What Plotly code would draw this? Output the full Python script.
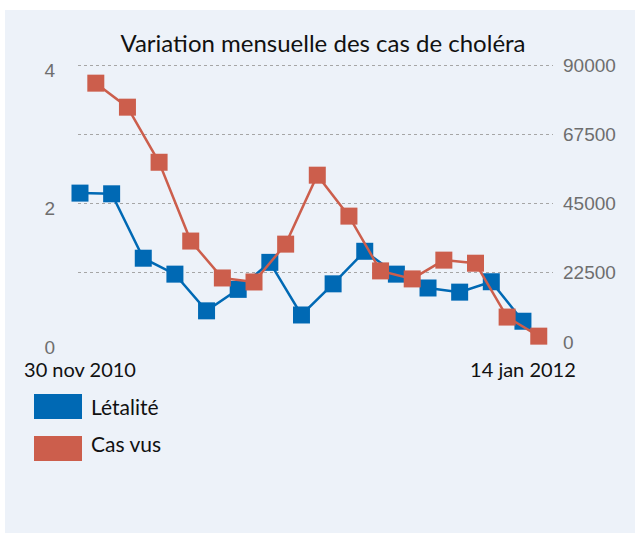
import plotly.graph_objects as go

# ---- data ----
periods = list(range(15))
tick_positions = [0, 14]
tick_labels = ["30 nov 2010", "14 jan 2012"]

letalite = [2.15, 2.14, 1.21, 0.98, 0.45, 0.76, 1.15, 0.39, 0.84, 1.31, 0.98, 0.78, 0.72, 0.87, 0.30]
cas_vus = [84100, 76300, 58400, 32800, 20800, 19500, 31800, 54200, 40900, 23100, 20500, 26600, 25600, 8100, 1900]

series_names = ["Létalité", "Cas vus"]
title_text = "Variation mensuelle des cas de choléra"

BLUE = "#0069B4"
RED = "#CC5E4C"
BG = "#EDF2F9"
TXT_FONT = "Lato"
TICK_FONT = "Liberation Sans"

# plot area geometry (pixels); value-top (4 / 90000) sits at y=65, zero at y=342
W, H = 635, 535
L, R, T, B = 78, 553, 62, 342
VTOP = 65
pw, ph = R - L, B - T
EPS = (B - T) / (B - VTOP)

def px(x):
    return (x - L) / pw

def py(y):
    return (B - y) / ph

red_x = [p + 0.5 for p in periods]

fig = go.Figure()
fig.add_trace(go.Scatter(
    x=periods, y=letalite, name=series_names[0], mode="lines+markers",
    line=dict(color=BLUE, width=2.5),
    marker=dict(symbol="square", size=17, color=BLUE),
    yaxis="y", showlegend=False, cliponaxis=False,
))
fig.add_trace(go.Scatter(
    x=red_x, y=cas_vus, name=series_names[1], mode="lines+markers",
    line=dict(color=RED, width=2.5),
    marker=dict(symbol="square", size=17, color=RED),
    yaxis="y2", showlegend=False, cliponaxis=False,
))

shapes = [
    dict(type="rect", xref="paper", yref="paper", layer="below",
         x0=px(5), x1=px(640), y0=py(533), y1=py(10),
         fillcolor=BG, line=dict(width=0)),
    dict(type="rect", xref="paper", yref="paper",
         x0=px(34), x1=px(82), y0=py(419), y1=py(394),
         fillcolor=BLUE, line=dict(width=0)),
    dict(type="rect", xref="paper", yref="paper",
         x0=px(34), x1=px(82), y0=py(461), y1=py(436),
         fillcolor=RED, line=dict(width=0)),
]

annotations = [
    dict(text=series_names[0], xref="paper", yref="paper", x=px(89), y=py(406),
         xanchor="left", yanchor="middle", showarrow=False,
         font=dict(family=TXT_FONT, size=21, color="#111")),
    dict(text=series_names[1], xref="paper", yref="paper", x=px(89), y=py(443),
         xanchor="left", yanchor="middle", showarrow=False,
         font=dict(family=TXT_FONT, size=21, color="#111")),
]

fig.update_layout(
    width=W, height=H,
    margin=dict(l=L, r=W - R, t=T, b=H - B, pad=0),
    paper_bgcolor="white",
    plot_bgcolor="rgba(0,0,0,0)",
    title=dict(text=title_text, x=323 / W, xanchor="center", xref="container",
               y=1 - 44 / H, yanchor="middle", yref="container",
               font=dict(family=TXT_FONT, size=24, color="#111")),
    xaxis=dict(range=[-0.063, 14.95], tickmode="array", tickvals=tick_positions,
               ticktext=tick_labels, showgrid=False, zeroline=False, showline=False,
               ticks="", ticklabelstandoff=14,
               tickfont=dict(family=TXT_FONT, size=20, color="#111")),
    yaxis=dict(range=[0, 4 * EPS], dtick=2, showgrid=False, zeroline=False, showline=False,
               ticks="", ticklabelstandoff=22, ticklabelshift=5,
               tickfont=dict(family=TICK_FONT, size=19, color="#6e6e6e")),
    yaxis2=dict(range=[0, 90000 * EPS], dtick=22500, tickformat="d", overlaying="y", side="right",
                showgrid=True, gridcolor="#a6a6a6", griddash="dot", gridwidth=1,
                zeroline=True, zerolinecolor=BG, zerolinewidth=1, showline=False,
                ticks="", ticklabelstandoff=9,
                tickfont=dict(family=TICK_FONT, size=19, color="#6e6e6e")),
    shapes=shapes,
    annotations=annotations,
)

fig.write_html("out.html", config={"displayModeBar": False},
               post_script="document.body.style.margin='0px';")
